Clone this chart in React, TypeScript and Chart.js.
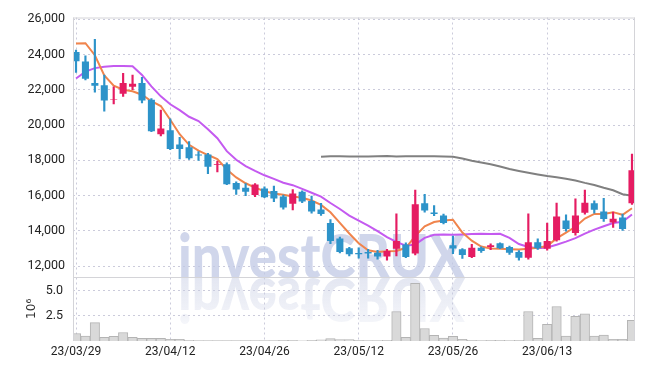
import React, { useEffect, useRef } from "react";
import { Chart, registerables } from "chart.js";
Chart.register(...registerables);

const dates = [
  "23/03/29","23/03/30","23/03/31","23/04/03","23/04/04","23/04/05","23/04/06","23/04/07","23/04/10","23/04/11",
  "23/04/12","23/04/13","23/04/14","23/04/17","23/04/18","23/04/19","23/04/20","23/04/21","23/04/24","23/04/25",
  "23/04/26","23/04/27","23/04/28","23/05/02","23/05/03","23/05/04","23/05/08","23/05/09","23/05/10","23/05/11",
  "23/05/12","23/05/15","23/05/16","23/05/17","23/05/18","23/05/19","23/05/22","23/05/23","23/05/24","23/05/25",
  "23/05/26","23/05/30","23/05/31","23/06/01","23/06/02","23/06/05","23/06/07","23/06/08","23/06/09","23/06/12",
  "23/06/13","23/06/14","23/06/15","23/06/16","23/06/19","23/06/20","23/06/21","23/06/22","23/06/23","23/06/26",
];

const openP = [24150,23600,22380,22260,21450,21780,22170,22380,21440,19480,19710,18900,18740,18330,18330,17740,17780,16720,16440,16030,16400,16260,15950,15540,16220,15700,15210,14440,13570,13010,12750,12800,12760,12540,12990,13230,12710,15560,15040,14870,13190,12950,12520,13040,13080,13300,13080,12800,12480,13360,12990,13470,14590,13880,15020,15560,15100,14480,14760,15560];
const closeP = [23620,22620,22230,21390,21480,22380,22340,21390,19650,19800,18640,18640,18120,18280,17630,17780,16650,16350,16220,16630,15900,15830,15320,16120,15660,15100,14950,13420,12800,12670,12680,12710,12540,12860,13420,12520,15510,15150,14960,14440,13000,12630,13040,12860,13190,13020,12760,12480,13360,13010,13420,14820,14110,14870,15600,15190,14670,14690,14110,17430];
const highP = [24250,23930,24860,22840,22170,22940,22840,22700,21500,20850,20360,19300,19060,18500,18400,17950,17860,16780,16680,16680,16500,16540,16030,16340,16270,15970,15560,14640,13640,13060,13040,12950,12900,12950,14970,13320,16310,16070,15430,14950,13700,13000,13230,13100,13270,13320,13130,12880,14970,13550,14440,15580,14910,15810,16310,15700,15840,15060,14950,18360];
const lowP = [22980,22560,21860,20790,21200,21630,22000,21260,19620,19390,18600,18080,18050,17990,17240,17340,16620,16070,15990,15940,15880,15660,15230,15190,15600,15000,14870,13270,12750,12580,12450,12450,12390,12340,12580,12480,12630,15060,14860,14400,12710,12430,12480,12780,12930,12990,12670,12340,12390,12950,12900,13420,13980,13750,14950,15000,14540,14200,14020,15500];

const ma5 = [24620,24640,23960,22820,22230,22000,21920,21720,21350,21080,20300,19480,18880,18550,18300,18070,17480,17030,16700,16450,16250,16120,16050,15950,15880,15720,15470,15050,14450,13850,13300,12900,12800,12840,12860,13040,13700,14260,14500,14590,14630,13900,13440,13110,13000,12990,12960,12940,12990,13040,13140,13570,13900,14230,14700,14960,14960,15060,14910,15280];
const ma20 = [22640,23030,23230,23310,23350,23350,23340,22840,22190,21630,21180,20850,20470,20230,19760,19250,18520,18030,17670,17400,17150,16950,16730,16590,16380,16160,15940,15580,15240,14860,14580,14300,13980,13640,13370,13160,13230,13600,13780,13790,13780,13800,13820,13830,13820,13830,13600,13250,13080,13010,13060,13210,13390,13590,13840,14070,14260,14440,14510,14930];
const maLongStart = 26;
const maLong = [18200,18230,18230,18220,18210,18210,18230,18240,18220,18230,18230,18230,18230,18220,18200,18100,17980,17880,17780,17650,17510,17400,17300,17200,17110,17040,16960,16860,16720,16600,16440,16300,16080,15990];

const volumeMillions = [0.75,0.49,1.83,0.36,0.46,0.85,0.36,0.26,0.26,0.26,0.17,0.16,0.07,0.05,0.05,0.05,0.05,0.04,0.04,0.04,0.03,0.03,0.06,0.06,0.02,0.06,0.12,0.25,0.15,0.15,0.06,0.05,0.05,0.06,2.94,0.36,5.75,1.24,0.56,0.29,0.46,0.17,0.07,0.03,0.07,0.07,0.03,0.07,2.94,0.26,1.67,3.43,0.49,2.45,2.71,0.49,0.59,0.17,0.17,2.06];

const priceTicks = [12000,14000,16000,18000,20000,22000,24000,26000];
const volumeTicks = [2.5, 5.0];
const xTickIndices = [0,10,20,30,40,50];

const UP = "rgb(229,28,98)";
const DOWN = "rgb(45,147,201)";
const FONT = "Roboto, 'DejaVu Sans', sans-serif";

export default function App() {
  const ref = useRef<HTMLCanvasElement>(null);
  useEffect(() => {
    const n = dates.length;
    const idx = Array.from({ length: n }, (_, i) => i);
    const colors = idx.map((i) => (closeP[i] >= openP[i] ? UP : DOWN));

    const watermark = {
      id: "watermark",
      beforeDatasetsDraw(chart: any) {
        const ctx = chart.ctx;
        const ys = chart.scales.y;
        const base = ys.bottom + 1;
        ctx.save();
        ctx.font = "900 60px Lato, Roboto, sans-serif";
        ctx.textBaseline = "alphabetic";
        const text = "investCRUX";
        const w = ctx.measureText(text).width;
        const sx = 287 / w;
        ctx.translate(178, base);
        ctx.save();
        ctx.scale(sx, 1);
        ctx.fillStyle = "rgba(192,200,228,0.75)";
        ctx.fillText(text, 0, 0);
        ctx.restore();
        ctx.save();
        ctx.scale(sx, -1);
        const g = ctx.createLinearGradient(0, 0, 0, -45);
        g.addColorStop(0, "rgba(200,206,228,0.5)");
        g.addColorStop(1, "rgba(200,206,228,0.2)");
        ctx.fillStyle = g;
        ctx.fillText(text, 0, 0);
        ctx.restore();
        ctx.restore();
      },
    };

    const frame = {
      id: "frame",
      afterDraw(chart: any) {
        const ctx = chart.ctx;
        const a = chart.chartArea;
        const sep = chart.scales.y.bottom;
        ctx.save();
        ctx.strokeStyle = "#d4d4d8";
        ctx.lineWidth = 1;
        ctx.beginPath();
        ctx.moveTo(a.left, a.top + 0.5);
        ctx.lineTo(a.right, a.top + 0.5);
        ctx.moveTo(a.right - 0.5, a.top);
        ctx.lineTo(a.right - 0.5, a.bottom);
        ctx.moveTo(a.left + 0.5, a.top);
        ctx.lineTo(a.left + 0.5, a.bottom);
        ctx.moveTo(a.left, Math.round(sep) + 0.5);
        ctx.lineTo(a.right, Math.round(sep) + 0.5);
        ctx.stroke();
        ctx.restore();
      },
    };

    const gridCommon = {
      color: "rgba(190,190,210,0.8)",
      lineWidth: 1,
      drawTicks: false,
      offset: false,
    };

    const chart = new Chart(ref.current!, {
      type: "bar",
      data: {
        datasets: [
          {
            type: "bar",
            label: "body",
            data: idx.map((i) => ({ x: i, y: [Math.min(openP[i], closeP[i]), Math.max(openP[i], closeP[i])] })) as any,
            backgroundColor: colors,
            borderWidth: 0,
            barPercentage: 0.75,
            categoryPercentage: 1,
            grouped: false,
            yAxisID: "y",
            order: 0,
          },
          {
            type: "bar",
            label: "wick",
            data: idx.map((i) => ({ x: i, y: [lowP[i], highP[i]] })) as any,
            backgroundColor: colors,
            borderWidth: 0,
            barThickness: 1.5,
            grouped: false,
            yAxisID: "y",
            order: 1,
          },
          {
            type: "line",
            label: "MA5",
            data: idx.map((i) => ({ x: i, y: ma5[i] })),
            borderColor: "rgb(240,132,76)",
            borderWidth: 2,
            pointRadius: 0,
            yAxisID: "y",
            order: 2,
          },
          {
            type: "line",
            label: "MA20",
            data: idx.map((i) => ({ x: i, y: ma20[i] })),
            borderColor: "rgb(196,90,240)",
            borderWidth: 2,
            pointRadius: 0,
            yAxisID: "y",
            order: 3,
          },
          {
            type: "line",
            label: "MA-long",
            data: maLong.map((v, k) => ({ x: maLongStart + k, y: v })),
            borderColor: "rgb(128,128,128)",
            borderWidth: 2,
            pointRadius: 0,
            yAxisID: "y",
            order: 4,
          },
          {
            type: "bar",
            label: "volume",
            data: idx.map((i) => ({ x: i, y: volumeMillions[i] })),
            backgroundColor: "rgb(217,217,217)",
            borderColor: "rgb(180,180,180)",
            borderWidth: 1,
            barPercentage: 1,
            categoryPercentage: 1,
            grouped: false,
            yAxisID: "yv",
            order: 5,
          },
        ] as any,
      },
      options: {
        animation: false,
        responsive: true,
        maintainAspectRatio: false,
        layout: { padding: { top: 13, right: 10, left: 0, bottom: 0 } },
        plugins: { legend: { display: false }, tooltip: { enabled: false } },
        scales: {
          x: {
            type: "linear",
            min: -0.32,
            max: 59.32,
            offset: false,
            grid: { ...gridCommon } as any,
            border: { display: false, dash: [2, 3] },
            afterBuildTicks: (s: any) => {
              s.ticks = xTickIndices.map((v) => ({ value: v }));
            },
            afterFit: (s: any) => {
              s.height = 29;
            },
            ticks: {
              autoSkip: false,
              maxRotation: 0,
              padding: 4,
              color: "#222",
              font: { family: FONT, size: 12 },
              callback: (v: any) => dates[v] ?? "",
            },
          },
          yv: {
            type: "linear",
            position: "left",
            stack: "panels",
            stackWeight: 65,
            min: 0,
            max: 6.4,
            grid: { ...gridCommon } as any,
            border: { display: false, dash: [2, 3] },
            afterBuildTicks: (s: any) => {
              s.ticks = volumeTicks.map((v) => ({ value: v }));
            },
            afterFit: (s: any) => {
              s.width = 73;
            },
            title: {
              display: true,
              text: "10\u2076",
              color: "#333",
              font: { family: "'DejaVu Sans', sans-serif", size: 12 },
              padding: { top: 25, bottom: 0 },
            },
            ticks: {
              padding: 10,
              color: "#222",
              font: { family: FONT, size: 12.5 },
              callback: (v: any) => Number(v).toFixed(1),
            },
          },
          y: {
            type: "linear",
            position: "left",
            stack: "panels",
            stackWeight: 262,
            min: 11400,
            max: 26100,
            grid: { ...gridCommon } as any,
            border: { display: false, dash: [2, 3] },
            afterBuildTicks: (s: any) => {
              s.ticks = priceTicks.map((v) => ({ value: v }));
            },
            afterFit: (s: any) => {
              s.width = 73;
            },
            ticks: {
              padding: 8,
              color: "#222",
              font: { family: FONT, size: 12.5 },
              callback: (v: any) => Number(v).toLocaleString("en-US"),
            },
          },
        } as any,
      },
      plugins: [watermark, frame],
    });
    return () => chart.destroy();
  }, []);

  return (
    <div style={{ position: "absolute", left: 0, top: 0, width: 645, height: 370, background: "#fff" }}>
      <canvas ref={ref} />
    </div>
  );
}
